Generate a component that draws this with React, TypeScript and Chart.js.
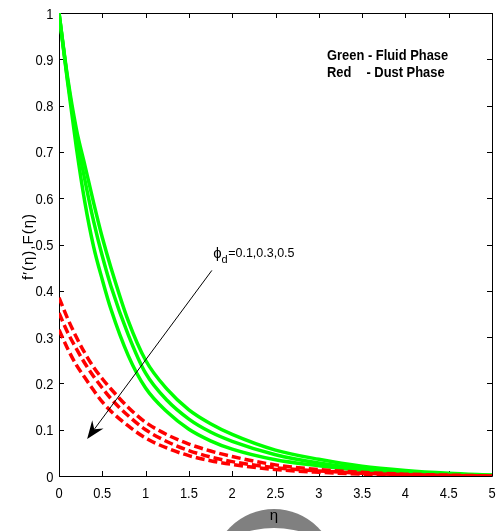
import React, { useEffect, useRef } from "react";
import { Chart, registerables } from "chart.js";

Chart.register(...registerables);

// ---- data ----
const eta = [0, 0.1, 0.2, 0.3, 0.4, 0.5, 0.6, 0.8, 1.0, 1.25, 1.5, 1.75, 2.0, 2.5, 3.0, 3.5, 4.0, 4.5, 5.0];

// Green - fluid phase f'(eta), phi_d = 0.1, 0.3, 0.5
const fluidPhi01 = [1, 0.86, 0.75, 0.67, 0.59, 0.515, 0.45, 0.335, 0.25, 0.187, 0.143, 0.113, 0.09, 0.056, 0.036, 0.021, 0.012, 0.006, 0.002];
const fluidPhi03 = [1, 0.855, 0.735, 0.638, 0.55, 0.475, 0.41, 0.305, 0.222, 0.163, 0.123, 0.095, 0.075, 0.046, 0.028, 0.016, 0.009, 0.004, 0.001];
const fluidPhi05 = [1, 0.85, 0.71, 0.59, 0.495, 0.424, 0.36, 0.26, 0.19, 0.138, 0.101, 0.076, 0.058, 0.035, 0.022, 0.012, 0.007, 0.003, 0.001];

// Red - dust phase F(eta), phi_d = 0.1, 0.3, 0.5
const dustPhi01 = [0.385, 0.34, 0.3, 0.265, 0.235, 0.21, 0.188, 0.148, 0.116, 0.089, 0.069, 0.054, 0.042, 0.024, 0.014, 0.008, 0.004, 0.002, 0.0];
const dustPhi03 = [0.352, 0.31, 0.275, 0.243, 0.215, 0.19, 0.167, 0.13, 0.1, 0.074, 0.055, 0.041, 0.031, 0.018, 0.011, 0.006, 0.003, 0.001, 0.0];
const dustPhi05 = [0.316, 0.275, 0.24, 0.212, 0.185, 0.16, 0.14, 0.108, 0.082, 0.06, 0.044, 0.033, 0.025, 0.014, 0.008, 0.004, 0.002, 0.001, 0.0];

const xTickValues = [0, 0.5, 1, 1.5, 2, 2.5, 3, 3.5, 4, 4.5, 5];
const xTickLabels = ["0", "0.5", "1", "1.5", "2", "2.5", "3", "3.5", "4", "4.5", "5"];
const yTickValues = [0, 0.1, 0.2, 0.3, 0.4, 0.5, 0.6, 0.7, 0.8, 0.9, 1];
const yTickLabels = ["0", "0.1", "0.2", "0.3", "0.4", "0.5", "0.6", "0.7", "0.8", "0.9", "1"];

const yAxisTitle = "f\u2032(\u03b7),F(\u03b7)";
const xAxisTitle = "\u03b7";
const legendLine1 = "Green - Fluid Phase";
const legendRed = "Red";
const legendLine2 = "- Dust Phase";
const phiMain = "\u03d5";
const phiSub = "d";
const phiValues = "=0.1,0.3,0.5";

const SANS = '"Liberation Sans", Arial, sans-serif';
const CONDENSE = 0.86;

const toPoints = (ys: number[]) => eta.map((x, i) => ({ x, y: ys[i] }));

// draw text horizontally condensed (like the narrow Helvetica of the reference)
function condensedText(ctx: CanvasRenderingContext2D, text: string, x: number, y: number, align: "left" | "center" | "right") {
  ctx.save();
  ctx.translate(x, y);
  ctx.scale(CONDENSE, 1);
  ctx.textAlign = align;
  ctx.fillText(text, 0, 0);
  ctx.restore();
}

const overlay = {
  id: "overlay",
  beforeDatasetsDraw(chart: any) {
    const { ctx, chartArea } = chart;
    const { left, right, top, bottom } = chartArea;
    const xs = chart.scales.x;
    const ys = chart.scales.y;
    ctx.save();
    ctx.strokeStyle = "#000";
    ctx.lineWidth = 1;
    ctx.beginPath();
    ctx.rect(Math.round(left) + 0.5, Math.round(top) + 0.5, Math.round(right - left), Math.round(bottom - top));
    ctx.stroke();
    ctx.beginPath();
    const tl = 5;
    xTickValues.forEach((v) => {
      const px = Math.round(xs.getPixelForValue(v)) + 0.5;
      ctx.moveTo(px, bottom);
      ctx.lineTo(px, bottom - tl);
      ctx.moveTo(px, top);
      ctx.lineTo(px, top + tl);
    });
    yTickValues.forEach((v) => {
      const py = Math.round(ys.getPixelForValue(v)) + 0.5;
      ctx.moveTo(left, py);
      ctx.lineTo(left + tl, py);
      ctx.moveTo(right, py);
      ctx.lineTo(right - tl, py);
    });
    ctx.stroke();

    // tick labels
    ctx.fillStyle = "#000";
    ctx.font = "15px " + SANS;
    ctx.textBaseline = "alphabetic";
    xTickValues.forEach((v, i) => {
      condensedText(ctx, xTickLabels[i], xs.getPixelForValue(v), bottom + 22, "center");
    });
    yTickValues.forEach((v, i) => {
      condensedText(ctx, yTickLabels[i], left - 5.5, ys.getPixelForValue(v) + 5.5, "right");
    });
    ctx.restore();
  },
  afterDraw(chart: any) {
    const { ctx, chartArea } = chart;
    const xs = chart.scales.x;
    const ys = chart.scales.y;
    const X = (v: number) => xs.getPixelForValue(v);
    const Y = (v: number) => ys.getPixelForValue(v);
    ctx.save();

    // legend text
    ctx.fillStyle = "#000";
    ctx.textBaseline = "middle";
    ctx.font = "bold 15px " + SANS;
    condensedText(ctx, legendLine1, X(3.095), Y(0.908), "left");
    condensedText(ctx, legendRed, X(3.095), Y(0.87), "left");
    condensedText(ctx, legendLine2, X(3.55), Y(0.87), "left");

    // phi annotation
    ctx.textBaseline = "alphabetic";
    ctx.textAlign = "left";
    const px0 = X(1.78);
    const pyBase = Y(0.473);
    ctx.font = "15px " + SANS;
    ctx.fillText(phiMain, px0, pyBase + 1);
    const wPhi = ctx.measureText(phiMain).width;
    ctx.font = "11px " + SANS;
    ctx.fillText(phiSub, px0 + wPhi, pyBase + 6);
    const wSub = ctx.measureText(phiSub).width;
    ctx.font = "12.5px " + SANS;
    ctx.fillText(phiValues, px0 + wPhi + wSub + 0.5, pyBase);

    // arrow
    const tx = X(1.765), ty = Y(0.444);
    const hx = X(0.325), hy = Y(0.0801);
    const dx = hx - tx, dy = hy - ty;
    const len = Math.hypot(dx, dy);
    const ux = dx / len, uy = dy / len;
    const nx = -uy, ny = ux;
    const headLen = 18, halfW = 7, notch = 12;
    ctx.strokeStyle = "#000";
    ctx.lineWidth = 1;
    ctx.beginPath();
    ctx.moveTo(tx, ty);
    ctx.lineTo(hx - ux * notch, hy - uy * notch);
    ctx.stroke();
    ctx.beginPath();
    ctx.moveTo(hx, hy);
    ctx.lineTo(hx - ux * headLen + nx * halfW, hy - uy * headLen + ny * halfW);
    ctx.lineTo(hx - ux * notch, hy - uy * notch);
    ctx.lineTo(hx - ux * headLen - nx * halfW, hy - uy * headLen - ny * halfW);
    ctx.closePath();
    ctx.fillStyle = "#000";
    ctx.fill();

    // y-axis title
    ctx.save();
    ctx.translate(29, (chartArea.top + chartArea.bottom) / 2 + 2);
    ctx.rotate(-Math.PI / 2);
    ctx.textAlign = "center";
    ctx.textBaseline = "middle";
    ctx.font = "15px " + SANS;
    (ctx as any).letterSpacing = "1px";
    ctx.fillText(yAxisTitle, 0, 0);
    ctx.restore();

    // x-axis title inside the grey ring
    const cx = 274;
    ctx.fillStyle = "#808080";
    ctx.beginPath();
    ctx.arc(cx, 571, 62, 0, Math.PI * 2);
    ctx.fill();
    ctx.fillStyle = "#fff";
    ctx.beginPath();
    ctx.arc(cx, 628, 100, 0, Math.PI * 2);
    ctx.fill();
    ctx.fillStyle = "#000";
    ctx.textAlign = "center";
    ctx.textBaseline = "middle";
    ctx.font = "15px " + SANS;
    ctx.fillText(xAxisTitle, cx, 516);

    ctx.restore();
  },
};

export default function App() {
  const canvasRef = useRef<HTMLCanvasElement | null>(null);

  useEffect(() => {
    const canvas = canvasRef.current;
    if (!canvas) return;
    const green = "#00ff00";
    const red = "#ff0000";
    const fluidStyle = { borderColor: green, borderWidth: 3.5, pointRadius: 0, fill: false, cubicInterpolationMode: "monotone" as const, order: 2 };
    const dustStyle = { borderColor: red, borderWidth: 3.5, borderDash: [9, 4], pointRadius: 0, fill: false, cubicInterpolationMode: "monotone" as const, order: 1 };
    const chart = new Chart(canvas, {
      type: "line",
      data: {
        datasets: [
          { label: "F, phi_d=0.1", data: toPoints(dustPhi01), ...dustStyle },
          { label: "F, phi_d=0.3", data: toPoints(dustPhi03), ...dustStyle },
          { label: "F, phi_d=0.5", data: toPoints(dustPhi05), ...dustStyle },
          { label: "f', phi_d=0.1", data: toPoints(fluidPhi01), ...fluidStyle },
          { label: "f', phi_d=0.3", data: toPoints(fluidPhi03), ...fluidStyle },
          { label: "f', phi_d=0.5", data: toPoints(fluidPhi05), ...fluidStyle },
        ],
      },
      options: {
        responsive: false,
        animation: false,
        devicePixelRatio: 1,
        layout: { padding: { left: 0, right: 6, top: 13, bottom: 0 } },
        plugins: { legend: { display: false }, tooltip: { enabled: false } },
        scales: {
          x: {
            type: "linear",
            min: 0,
            max: 5,
            grid: { display: false, drawTicks: false },
            border: { display: false },
            afterBuildTicks: (s: any) => {
              s.ticks = xTickValues.map((v) => ({ value: v }));
            },
            afterFit: (s: any) => {
              s.height = 55;
            },
            ticks: { display: false },
          },
          y: {
            type: "linear",
            min: 0,
            max: 1,
            grid: { display: false, drawTicks: false },
            border: { display: false },
            afterBuildTicks: (s: any) => {
              s.ticks = yTickValues.map((v) => ({ value: v }));
            },
            afterFit: (s: any) => {
              s.width = 59;
            },
            ticks: { display: false },
          },
        },
      },
      plugins: [overlay],
    });
    return () => chart.destroy();
  }, []);

  return (
    <div style={{ position: "fixed", left: 0, top: 0, width: 498, height: 531, background: "#fff", overflow: "hidden" }}>
      <canvas ref={canvasRef} width={498} height={531} style={{ display: "block", width: 498, height: 531 }} />
    </div>
  );
}
